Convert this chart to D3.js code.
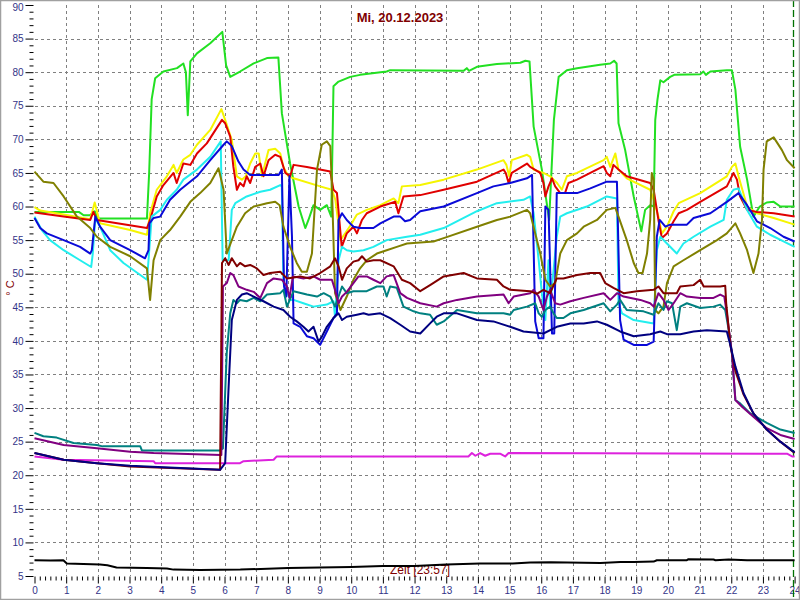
<!DOCTYPE html>
<html><head><meta charset="utf-8">
<script src="https://cdn.jsdelivr.net/npm/d3@7"></script>
<style>html,body{margin:0;padding:0;background:#fff}svg{display:block;font-family:Arial,"Liberation Sans",sans-serif}</style>
</head><body><svg id="c" width="800" height="600"></svg>
<script>
// ---------- data: [hour, °C] ----------
const title = "Mi, 20.12.2023";
const xLabel = "Zeit [23:57]";
const yLabel = "° C";
const nowHour = 23.95;
const xTicks = d3.range(0, 25, 1);
const yTicks = d3.range(5, 91, 5);

const sGreen = [[0,59.2],[1.4,59.2],[1.55,58.7],[1.75,58.7],[1.9,59.3],[2.0,58.2],[3.55,58.2],[3.62,65],[3.7,76],[3.81,79.1],[4.07,80.1],[4.5,80.6],[4.7,81.3],[4.78,80],[4.84,73.6],[4.92,81.6],[5.13,82.8],[5.55,84.3],[5.93,86],[6.05,81],[6.18,79.3],[6.49,80.1],[6.92,81.3],[7.34,82.1],[7.7,82.2],[7.81,73.9],[8.07,66.4],[8.34,60],[8.55,56.8],[8.65,58],[8.81,60.2],[9.02,59.5],[9.23,60.2],[9.37,58.5],[9.44,77.9],[9.6,78.6],[9.97,79.3],[10.28,79.6],[11.12,80.1],[11.23,80.3],[13.55,80.2],[13.65,80.6],[13.72,80.2],[13.97,80.8],[14.6,81.2],[15.34,81.4],[15.5,81.7],[15.63,81.6],[15.76,71.9],[16.02,65.5],[16.25,58],[16.4,72.9],[16.55,79.3],[16.81,80.3],[17.13,80.6],[17.86,81.1],[18.18,81.3],[18.3,81.7],[18.38,81.3],[18.44,72.4],[18.65,68.4],[18.92,61.5],[19.16,56.3],[19.28,59.5],[19.44,60.2],[19.55,60],[19.6,72.9],[19.67,75.9],[19.76,78.8],[19.86,78.5],[20.07,79.3],[20.2,79.6],[21.02,79.7],[21.12,80.1],[21.2,79.6],[21.34,80.1],[21.86,80.3],[22.02,80.3],[22.13,77.4],[22.28,68.9],[22.5,64],[22.7,58.5],[22.9,60],[23.12,60.6],[23.34,60.7],[23.55,60],[24,60]];
const sYellow = [[0,59.9],[0.18,59.4],[0.92,58.8],[1.76,58.1],[1.9,60.6],[2.07,57.5],[3.02,56.5],[3.55,55.8],[3.65,59],[3.86,62.5],[4.18,64.5],[4.39,66.2],[4.49,65],[4.7,67],[4.92,67.7],[5.13,69.2],[5.55,71.4],[5.9,74.5],[6.02,72.9],[6.23,69.9],[6.39,64.5],[6.55,64],[6.67,64.5],[6.81,66.4],[6.97,67.9],[7.08,67.9],[7.18,64.5],[7.39,68.4],[7.6,68.6],[7.76,67.9],[7.86,65.9],[8.02,64.5],[8.18,64.2],[9.02,63],[9.39,62.5],[9.5,61],[9.66,55],[9.81,56],[10.02,57.5],[10.18,58.8],[10.49,59.5],[10.92,60.2],[11.34,61.2],[11.49,60.5],[11.6,63],[12.18,63.2],[12.92,64],[13.97,65.5],[14.81,66.9],[14.9,66.2],[14.99,64.5],[15.07,66.9],[15.55,67.7],[15.65,67.4],[15.76,65.5],[16.07,65],[16.28,64.5],[16.5,63.5],[16.65,62.5],[16.81,64.5],[17.13,65],[17.97,66.9],[18.07,67.4],[18.18,65.9],[18.34,67.9],[18.44,65.5],[18.7,64.2],[19.44,62.5],[19.55,61],[19.7,58.5],[19.81,56],[19.97,57],[20.18,59.3],[20.34,60.5],[21.02,62],[21.86,64.5],[22.02,65.9],[22.13,66.4],[22.23,64.5],[22.5,60],[22.81,59],[23.34,58.3],[24,57.3]];
const sRed = [[0,59.1],[0.92,58.5],[1.76,58],[1.86,59.2],[1.97,58],[3.55,56.8],[3.65,58],[3.86,61.5],[4.07,63.2],[4.39,65],[4.49,63.5],[4.7,66.4],[4.92,66.2],[5.13,67.9],[5.44,69.4],[5.92,72.9],[6.02,72.4],[6.18,70.4],[6.28,65.9],[6.39,62.5],[6.49,63.5],[6.6,63],[6.7,64.5],[6.81,63.5],[6.97,65.9],[7.13,66.4],[7.23,64.5],[7.39,66.9],[7.6,67.7],[7.76,67.4],[7.92,65],[8.07,64.5],[8.18,66.2],[8.6,65.9],[9.34,65.2],[9.44,62.5],[9.55,62],[9.7,54],[9.86,56],[10.07,57],[10.18,56],[10.34,58],[10.49,59],[10.92,60],[11.39,60.7],[11.49,59],[11.65,61.5],[12.18,61.7],[12.92,62.5],[13.97,63.7],[14.81,65.5],[14.88,65],[14.97,63.5],[15.07,65],[15.55,66.4],[15.65,65.9],[15.97,65],[16.07,63.5],[16.13,61.5],[16.23,63],[16.34,64.2],[16.44,63],[16.6,62],[16.75,62],[16.86,63.5],[17.13,64],[17.97,66],[18.07,65],[18.18,64.5],[18.28,66.2],[18.44,65.5],[18.7,64.5],[19.44,63.5],[19.55,62.5],[19.7,58],[19.81,55.3],[19.97,56],[20.18,57.8],[20.34,59],[20.6,59.5],[21.02,60.7],[21.86,63],[22.07,65],[22.18,64],[22.28,61.5],[22.5,59.5],[22.81,59.2],[23.34,59],[24,58.5]];
const sBlue = [[0,58.3],[0.18,56.8],[0.39,56],[0.92,55],[1.44,54],[1.76,53],[1.81,53.5],[1.92,58.5],[2.07,57],[2.39,55],[3.02,53.5],[3.49,52.3],[3.6,53.5],[3.63,57.5],[3.76,58.3],[3.97,58.5],[4.28,61],[4.6,62.5],[5.13,64.5],[5.55,66.9],[5.97,69.2],[6.07,69.7],[6.23,69],[6.44,66.7],[6.6,65.5],[6.81,64.7],[7.71,64.7],[7.81,65.5],[7.88,48.1],[7.95,46.6],[8.05,64.5],[8.13,55.5],[8.18,42.6],[8.39,42.1],[8.6,40.7],[8.81,40.4],[9.02,39.4],[9.23,41.4],[9.44,43.4],[9.55,44.1],[9.6,58],[9.71,59],[9.86,58],[10.07,57],[10.28,56.8],[10.7,56.8],[10.92,57.5],[11.34,58.5],[11.55,58.5],[11.7,57.8],[11.86,58],[12.18,59.3],[12.92,60],[13.97,62],[14.49,63],[15.02,63.5],[15.55,64.2],[15.71,64.7],[15.81,42.9],[15.92,40.4],[16.07,40.4],[16.13,60],[16.23,59.5],[16.34,41.1],[16.41,41.1],[16.49,62],[17.13,62],[17.55,62.7],[18.07,63.7],[18.39,63.7],[18.49,43.1],[18.6,40.2],[18.92,39.4],[19.34,39.4],[19.55,39.9],[19.65,55.5],[19.74,58],[19.92,57],[20.07,57.3],[20.6,57.3],[20.81,58.3],[21.34,59],[21.86,60.7],[22.23,62],[22.5,60.2],[22.81,57.8],[23.23,56.8],[23.65,55.5],[24,54.8]];
const sCyan = [[0,58.5],[0.23,56.5],[0.49,55],[0.92,53.5],[1.44,52],[1.79,51],[1.84,53],[1.92,58.3],[2.07,57],[2.39,53.5],[2.81,51.6],[3.55,49.1],[3.6,52],[3.7,58.5],[3.97,59.5],[4.18,61],[4.49,62.5],[4.7,64],[5.13,65.5],[5.55,67.4],[5.88,69.7],[5.94,52],[6.13,52],[6.23,59.5],[6.34,60.5],[6.7,61.5],[7.13,62.2],[7.44,62.5],[7.76,63.2],[7.81,63],[7.86,48.6],[7.97,47.3],[8.07,46.1],[8.18,46.1],[8.49,45.6],[8.81,45.1],[9.23,45.4],[9.44,45.9],[9.49,43.6],[9.6,52],[9.71,54],[9.86,53.5],[10.07,53.3],[10.39,53.5],[10.7,54],[11.12,55],[11.76,55.5],[12.18,55.8],[12.92,56.8],[13.97,59.3],[14.6,60.5],[15.44,61],[15.65,61.5],[15.76,59],[15.92,52],[16.02,47.1],[16.13,43.1],[16.23,52],[16.28,45.1],[16.49,55.5],[16.6,58.5],[16.81,59],[17.44,60],[18.07,61.5],[18.39,61.2],[18.44,45.6],[18.55,44.1],[18.92,43.1],[19.55,42.6],[19.65,53.5],[19.76,55.5],[19.97,54.5],[20.28,53],[20.49,54.5],[20.81,55.5],[21.34,57],[21.76,58],[21.86,61],[22.07,62.5],[22.23,62.7],[22.5,59.5],[22.81,57],[23.23,55.8],[23.65,54.8],[24,54]];
const sOlive = [[0,65.2],[0.28,63.7],[0.6,63.5],[0.92,61.5],[1.34,58.5],[1.76,56.8],[1.97,55.5],[2.39,54],[3.02,52.6],[3.55,50.8],[3.65,46.1],[3.76,52],[3.97,55],[4.28,56.5],[4.6,58.5],[4.92,60.7],[5.23,62],[5.55,63.5],[5.81,65.7],[5.97,62.5],[6.07,53],[6.23,55],[6.39,57],[6.65,59],[6.92,60],[7.34,60.5],[7.6,60.7],[7.74,60.2],[7.86,57],[8.07,54],[8.28,51.6],[8.44,50.3],[8.6,50.3],[8.76,53],[8.92,65.5],[9.07,69.2],[9.23,69.7],[9.34,69],[9.39,63],[9.49,47.1],[9.66,44.6],[9.86,46.6],[10.07,49.1],[10.28,50.8],[10.49,52],[10.81,53],[11.12,53.5],[11.44,54],[11.76,54.5],[12.6,54.8],[12.92,55.3],[13.97,57],[14.6,58],[15.02,58.5],[15.55,59.5],[15.65,59],[15.81,56],[15.97,53],[16.13,49.1],[16.28,48.1],[16.44,48.6],[16.6,53],[16.81,55],[17.13,56],[17.34,57],[17.76,58],[18.07,59.5],[18.34,59.8],[18.44,58.5],[18.7,55],[18.92,51.6],[19.07,50.1],[19.2,50.1],[19.34,53],[19.44,58],[19.49,65],[19.55,64],[19.6,44.6],[19.7,44.1],[19.86,45.1],[19.97,48.6],[20.18,51.1],[20.49,52],[21.02,53.5],[21.55,55],[21.86,56],[22.13,57.5],[22.28,56],[22.5,53.5],[22.7,50.1],[22.86,53],[22.97,58],[23.02,65.5],[23.12,69.7],[23.34,70.3],[23.6,68.4],[23.76,66.9],[24,65.7]];
const sMaroon = [[0,23.3],[0.92,22.3],[1.97,21.8],[3.02,21.3],[4.07,21.1],[5.86,20.8],[5.92,51.6],[6.02,52.3],[6.13,51.3],[6.23,52.3],[6.39,51.1],[6.49,51.6],[6.65,51.1],[6.81,51.3],[7.02,50.8],[7.23,49.8],[7.44,50.1],[7.76,50.3],[7.97,49.3],[8.39,49.6],[8.7,49.3],[9.02,50.1],[9.34,51.1],[9.49,52.3],[9.6,51.1],[9.71,49.1],[9.86,50.8],[10.07,51.8],[10.23,52],[10.34,52.6],[10.49,51.8],[10.7,52],[10.92,52],[11.34,51.1],[11.6,49.1],[11.86,48.6],[12.18,47.4],[12.49,48.3],[12.92,49.6],[13.55,50.1],[13.97,49.3],[14.6,49.1],[14.81,48.1],[15.02,47.6],[15.65,47.4],[15.86,47],[16.07,47.6],[16.28,47.1],[16.49,49.3],[16.7,49.3],[17.13,49.8],[17.55,50.1],[17.86,50.1],[18.02,48.6],[18.28,47.9],[18.6,47.1],[19.02,47.4],[19.55,47.6],[19.7,48.1],[19.86,47.1],[20.28,47.1],[20.39,48.1],[20.81,48.3],[21.02,49.1],[21.13,48.1],[21.65,48.1],[21.81,48.2],[21.84,45.6],[21.97,39.4],[22.13,35.5],[22.39,32],[22.7,29.2],[23.12,26.8],[23.55,25],[24,23.3]];
const sPurple = [[0,25.5],[0.92,24.5],[1.97,24],[3.02,23.5],[3.76,23.3],[5.9,23],[5.95,48.1],[6.07,48.6],[6.18,50.1],[6.28,49.8],[6.44,48.1],[6.7,47.6],[6.92,47.3],[7.13,46.4],[7.34,48.6],[7.55,49.3],[7.81,49.1],[7.97,48.1],[8.05,46.4],[8.16,49.6],[8.49,49.3],[8.81,49.6],[9.02,49.1],[9.39,49.1],[9.49,47.6],[9.6,45.6],[9.71,46.6],[9.86,47.3],[10.07,48.6],[10.23,49.6],[10.49,49.6],[10.7,49.1],[10.92,48.6],[11.12,49.6],[11.34,49.8],[11.55,47.1],[11.76,46.4],[12.18,45.6],[12.7,45.1],[12.92,45.6],[13.34,46.1],[13.97,46.6],[14.81,46.9],[14.97,45.6],[15.13,46.6],[15.65,47.1],[15.76,47.6],[15.92,46.6],[16.07,44.6],[16.18,46.6],[16.28,47.6],[16.44,45.6],[16.6,45.4],[16.92,45.9],[17.34,46.4],[17.97,47.1],[18.18,46.1],[18.39,47.1],[18.6,46.6],[19.13,46.1],[19.44,45.6],[19.55,45.1],[19.7,47.1],[19.86,46.1],[20.02,44.6],[20.18,45.6],[20.39,47.1],[20.6,46.6],[21.02,46.4],[21.44,46.4],[21.65,46.9],[21.78,46.6],[21.86,44.1],[22.02,38.2],[22.13,31.2],[22.34,30.2],[22.7,28.7],[23.12,27],[23.55,26],[24,25.4]];
const sTeal = [[0,26.3],[0.28,25.8],[0.7,25.6],[1.23,24.8],[1.97,24.5],[2.15,24.3],[3.34,24.3],[3.39,23.7],[5.86,23.7],[5.95,24],[6.07,38.2],[6.18,44.1],[6.28,46.1],[6.39,45.6],[6.49,46.1],[6.7,45.9],[6.92,46.4],[7.13,45.9],[7.34,46.9],[7.76,47.1],[7.86,47.6],[7.97,45.1],[8.18,47.4],[8.6,46.9],[8.92,46.6],[9.13,47.1],[9.34,46.6],[9.49,45.1],[9.6,46.6],[9.71,48.1],[9.86,47.1],[10.07,47.4],[10.49,47.4],[10.81,48.1],[11.02,48.1],[11.12,46.6],[11.23,48.1],[11.44,47.9],[11.65,45.1],[11.97,44.4],[12.18,44.1],[12.49,43.9],[12.7,42.4],[12.92,42.9],[13.34,44.6],[13.97,44.1],[14.81,44.1],[15.02,43.9],[15.13,44.6],[15.55,45.1],[15.81,45.6],[15.92,44.1],[16.02,43.6],[16.13,44.6],[16.28,45.1],[16.39,44.1],[16.49,43.4],[16.7,43.4],[16.92,44.1],[17.34,44.6],[17.97,45.6],[18.18,44.4],[18.39,45.4],[18.49,46.1],[18.7,44.6],[19.23,44.4],[19.55,43.9],[19.7,45.6],[19.86,44.6],[19.97,45.9],[20.13,45.6],[20.28,41.6],[20.39,45.1],[20.6,45.6],[21.02,44.9],[21.44,45.1],[21.65,45.4],[21.81,44.6],[21.92,41.6],[22.02,38.2],[22.13,31.2],[22.28,30.7],[22.6,29.2],[23.12,27.8],[23.55,26.8],[24,26.3]];
const sNavy = [[0,23.3],[0.92,22.3],[1.97,21.8],[3.02,21.4],[4.07,21.2],[5.86,20.8],[6.02,21.8],[6.13,33.2],[6.23,43.1],[6.39,46.1],[6.55,46.9],[6.7,47.1],[6.92,46.6],[7.23,45.9],[7.55,45.1],[7.86,44.6],[8.07,43.6],[8.28,42.9],[8.49,42.1],[8.65,41.4],[8.81,42.1],[8.97,39.9],[9.07,40.6],[9.23,42.1],[9.44,43.4],[9.6,44.1],[9.71,43.1],[9.86,43.6],[10.18,43.9],[10.39,44.1],[10.55,43.9],[10.92,44.1],[11.23,43.4],[11.55,42.4],[11.86,41.4],[12.18,41.1],[12.49,42.6],[12.7,43.6],[12.92,44.1],[13.34,44.1],[13.97,43.1],[14.49,42.9],[15.02,42.1],[15.44,41.4],[16.07,41.1],[16.49,42.1],[16.92,42.6],[17.34,42.6],[17.76,42.9],[18.07,42.4],[18.49,41.4],[18.92,40.7],[19.44,41],[19.76,41.4],[19.97,41],[20.39,41],[20.81,41.4],[21.23,41.6],[21.86,41.4],[21.97,39.4],[22.13,36.2],[22.39,32.2],[22.7,29.2],[23.12,26.8],[23.55,25],[24,23.4]];
const sMagenta = [[0,22.8],[0.92,22.3],[3.76,22.1],[3.81,21.8],[6.49,21.8],[6.6,22.1],[7.55,22.3],[7.65,22.8],[13.7,22.8],[13.81,23.3],[13.92,22.9],[14.07,23.3],[14.23,22.9],[14.39,23.2],[14.7,23.2],[14.86,22.8],[14.97,23.3],[23.76,23.2],[23.92,22.8],[24,22.8]];
const sBlack = [[0,7.35],[0.5,7.3],[0.91,7.35],[1.02,6.86],[2.07,6.7],[2.3,6.6],[2.59,6.26],[3.55,6.2],[4.18,6.1],[4.39,5.95],[5.23,5.9],[6.5,5.95],[8,6.2],[10,6.35],[11,6.5],[12,6.5],[13,6.7],[14.07,6.85],[15.1,6.85],[15.65,7],[16.3,7.05],[17.87,6.95],[18.5,7.1],[18.92,7.1],[19.55,7.15],[19.65,7.35],[20.6,7.35],[20.65,7.5],[21.44,7.45],[21.5,7.35],[21.92,7.45],[22.5,7.35],[24,7.35]];

const seriesData = [sGreen, sYellow, sRed, sCyan, sBlue, sOlive, sMagenta, sTeal, sPurple, sMaroon, sNavy, sBlack];
const seriesColors = ["#22e022", "#f5f500", "#e00000", "#22eeee", "#0a0ad8", "#808000", "#dd22dd", "#008080", "#800080", "#800000", "#000080", "#000000"];

// ---------- drawing ----------
const svg = d3.select("#c");
const x = d3.scaleLinear().domain([0, 24]).range([34.5, 794.6]);
const y = d3.scaleLinear().domain([5, 90]).range([576, 5]);
const axisColor = "#333388";
const darkRed = "#800000";

svg.append("rect").attr("x", 0).attr("y", 0).attr("width", 800).attr("height", 600).attr("fill", "#fff");

// grid
const grid = svg.append("g").attr("stroke", "#808080").attr("stroke-width", 1).attr("stroke-dasharray", "3,3").attr("shape-rendering", "crispEdges");
grid.selectAll("line.h").data(yTicks.filter(v => v > 5 && v < 90)).join("line")
  .attr("x1", x(0)).attr("x2", x(24)).attr("y1", d => Math.round(y(d)) + 0.5).attr("y2", d => Math.round(y(d)) + 0.5);
grid.selectAll("line.v").data(xTicks.filter(h => h > 0 && h < 24)).join("line")
  .attr("x1", d => Math.round(x(d)) + 0.5).attr("x2", d => Math.round(x(d)) + 0.5).attr("y1", y(90)).attr("y2", y(5));

// y axis
const yAxis = d3.axisLeft(y).tickValues(yTicks).tickSize(8).tickPadding(2).tickFormat(d3.format("d"));
const gy = svg.append("g").attr("transform", "translate(33.5,0)").call(yAxis);
gy.select(".domain").remove();
gy.selectAll(".tick line").attr("stroke", "#000");
gy.selectAll(".tick text").attr("fill", axisColor).attr("font-size", 10).attr("font-family", "Arial, 'Liberation Sans', sans-serif")
  .attr("dy", d => d === 90 ? "0.55em" : "0.32em");
const yMinor = d3.axisLeft(y).tickValues(d3.range(5, 91, 1).filter(v => v % 5 !== 0)).tickSize(4).tickFormat("");
const gym = svg.append("g").attr("transform", "translate(33.5,0)").call(yMinor);
gym.select(".domain").remove();
gym.selectAll(".tick line").attr("stroke", "#000");

// x axis
const xAxis = d3.axisBottom(x).tickValues(xTicks).tickSize(7).tickPadding(3).tickFormat(d3.format("d"));
const gx = svg.append("g").attr("transform", "translate(0,576.5)").call(xAxis);
gx.select(".domain").remove();
gx.selectAll(".tick line").attr("stroke", "#000");
gx.selectAll(".tick text").attr("fill", axisColor).attr("font-size", 10).attr("font-family", "Arial, 'Liberation Sans', sans-serif");
const xMinor = d3.axisBottom(x).tickValues(d3.range(0, 24.01, 1/6).filter((h, i) => i % 6 !== 0)).tickSize(4).tickFormat("");
const gxm = svg.append("g").attr("transform", "translate(0,576.5)").call(xMinor);
gxm.select(".domain").remove();
gxm.selectAll(".tick line").attr("stroke", "#000");

// labels
svg.append("text").attr("x", 400).attr("y", 22).attr("text-anchor", "middle").attr("font-size", 13).attr("font-weight", "bold").attr("fill", darkRed).text(title);
svg.append("text").attr("x", 390).attr("y", 573.5).attr("font-size", 12).attr("fill", darkRed).text(xLabel);
svg.append("text").attr("transform", "translate(14,288) rotate(-90)").attr("text-anchor", "middle").attr("font-size", 11).attr("fill", darkRed).text(yLabel);

// now line
svg.append("line").attr("x1", Math.round(x(nowHour)) + 0.5).attr("x2", Math.round(x(nowHour)) + 0.5).attr("y1", 0).attr("y2", 600)
  .attr("stroke", "#007000").attr("stroke-width", 1.3).attr("stroke-dasharray", "7,3");

// series
const line = d3.line().x(d => x(d[0])).y(d => y(d[1])).curve(d3.curveLinear);
svg.append("g").selectAll("path").data(seriesData).join("path")
  .attr("d", line).attr("fill", "none").attr("stroke", (d, i) => seriesColors[i])
  .attr("stroke-width", 2).attr("stroke-linejoin", "round");

// frame
svg.append("rect").attr("x", 0.5).attr("y", 0.5).attr("width", 799).attr("height", 599).attr("fill", "none").attr("stroke", "#a0a0a0").attr("stroke-width", 1.5);
</script></body></html>
